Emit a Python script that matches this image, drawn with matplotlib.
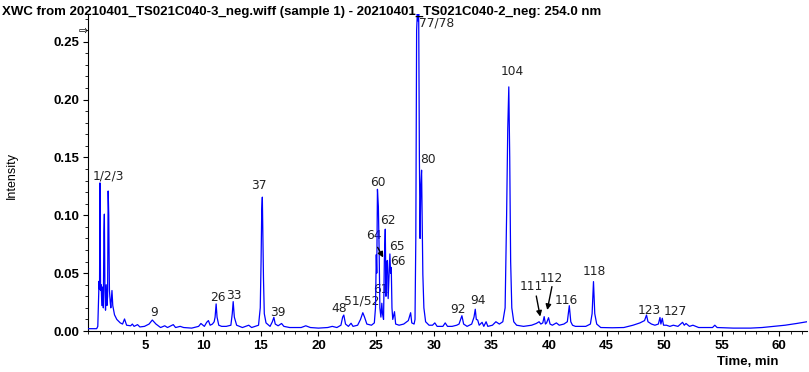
import matplotlib
matplotlib.use("Agg")
import matplotlib.pyplot as plt
from matplotlib.ticker import MultipleLocator

# ---------------- data ----------------
# rows of ten points; time_min and intensity rows correspond one-to-one
time_min = [
    0.0, 0.75, 0.85, 0.92, 0.96, 1.0, 1.04, 1.09, 1.14, 1.2,
    1.27, 1.33, 1.38, 1.42, 1.47, 1.52, 1.58, 1.64, 1.7, 1.75,
    1.8, 1.86, 1.93, 1.98, 2.08, 2.15, 2.3, 2.5, 2.8, 3.0,
    3.17, 3.35, 3.7, 3.85, 4.0, 4.3, 4.5, 4.9, 5.3, 5.58,
    5.9, 6.3, 6.66, 6.9, 7.4, 7.6, 8.0, 8.3, 9.0, 9.6,
    9.8, 10.1, 10.3, 10.45, 10.6, 10.8, 10.95, 11.03, 11.12, 11.2,
    11.35, 11.6, 12.0, 12.4, 12.52, 12.6, 12.7, 12.9, 13.4, 13.95,
    14.2, 14.8, 14.95, 15.02, 15.08, 15.13, 15.18, 15.23, 15.3, 15.45,
    15.8, 16.0, 16.13, 16.25, 16.5, 16.8, 17.0, 17.5, 18.5, 18.9,
    19.3, 20.0, 20.8, 21.2, 21.6, 21.95, 22.1, 22.2, 22.35, 22.6,
    22.83, 23.0, 23.4, 23.65, 23.85, 24.0, 24.2, 24.6, 24.85, 24.95,
    25.02, 25.06, 25.12, 25.2, 25.27, 25.33, 25.42, 25.5, 25.56, 25.65,
    25.72, 25.8, 25.86, 25.92, 25.99, 26.05, 26.12, 26.2, 26.26, 26.32,
    26.38, 26.45, 26.6, 26.7, 27.0, 27.4, 27.8, 28.0, 28.1, 28.3,
    28.38, 28.45, 28.52, 28.58, 28.64, 28.7, 28.76, 28.82, 28.88, 28.95,
    29.0, 29.06, 29.15, 29.3, 29.6, 29.9, 30.1, 30.3, 30.8, 31.0,
    31.2, 31.6, 32.0, 32.2, 32.45, 32.6, 32.9, 33.3, 33.5, 33.61,
    33.7, 33.82, 33.95, 34.2, 34.35, 34.55, 34.7, 35.1, 35.4, 35.7,
    36.0, 36.2, 36.33, 36.43, 36.52, 36.6, 36.68, 36.78, 36.95, 37.2,
    37.8, 38.5, 38.9, 39.15, 39.3, 39.47, 39.59, 39.7, 39.8, 39.97,
    40.1, 40.3, 40.65, 40.9, 41.3, 41.6, 41.77, 41.9, 42.05, 42.3,
    42.6, 43.2, 43.6, 43.75, 43.87, 43.98, 44.15, 44.5, 45.5, 46.5,
    47.3, 47.9, 48.3, 48.47, 48.6, 48.9, 49.2, 49.5, 49.64, 49.72,
    49.84, 49.95, 50.2, 50.5, 50.8, 51.2, 51.6, 51.75, 51.9, 52.2,
    52.5, 53.0, 54.2, 54.4, 54.6, 56.0, 57.5, 58.5, 59.5, 60.5,
    61.5, 62.4,
]
intensity = [
    0.002, 0.002, 0.004, 0.03, 0.043, 0.036, 0.128, 0.035, 0.04, 0.022,
    0.038, 0.02, 0.085, 0.101, 0.035, 0.018, 0.04, 0.022, 0.03, 0.121,
    0.1, 0.035, 0.025, 0.02, 0.035, 0.022, 0.014, 0.01, 0.007, 0.006,
    0.0104, 0.005, 0.0045, 0.006, 0.004, 0.0055, 0.0035, 0.004, 0.006, 0.0095,
    0.006, 0.003, 0.0045, 0.003, 0.0055, 0.003, 0.004, 0.003, 0.0025, 0.004,
    0.0065, 0.004, 0.0075, 0.009, 0.005, 0.006, 0.008, 0.012, 0.0234, 0.012,
    0.005, 0.004, 0.004, 0.005, 0.015, 0.0254, 0.012, 0.005, 0.003, 0.005,
    0.003, 0.005, 0.02, 0.06, 0.105, 0.1157, 0.079, 0.045, 0.015, 0.007,
    0.004, 0.008, 0.0118, 0.006, 0.0045, 0.0065, 0.004, 0.003, 0.003, 0.0045,
    0.003, 0.0025, 0.003, 0.004, 0.003, 0.005, 0.012, 0.0138, 0.006, 0.004,
    0.0067, 0.004, 0.005, 0.01, 0.0158, 0.012, 0.006, 0.005, 0.007, 0.02,
    0.066, 0.05, 0.1225, 0.1075, 0.068, 0.02, 0.012, 0.024, 0.015, 0.01,
    0.061, 0.088, 0.03, 0.06, 0.061, 0.028, 0.045, 0.0666, 0.05, 0.055,
    0.02, 0.01, 0.0167, 0.006, 0.005, 0.006, 0.009, 0.0158, 0.007, 0.006,
    0.01, 0.08, 0.26, 0.274, 0.268, 0.274, 0.15, 0.08, 0.125, 0.139,
    0.096, 0.049, 0.02, 0.008, 0.005, 0.005, 0.007, 0.004, 0.004, 0.007,
    0.004, 0.004, 0.005, 0.006, 0.0132, 0.006, 0.004, 0.006, 0.012, 0.0188,
    0.01, 0.0095, 0.005, 0.0075, 0.004, 0.008, 0.004, 0.005, 0.008, 0.006,
    0.008, 0.02, 0.1, 0.175, 0.211, 0.15, 0.06, 0.02, 0.008, 0.005,
    0.004, 0.005, 0.0065, 0.008, 0.006, 0.007, 0.0124, 0.006, 0.007, 0.0115,
    0.006, 0.005, 0.007, 0.005, 0.006, 0.008, 0.0219, 0.008, 0.005, 0.004,
    0.004, 0.004, 0.006, 0.015, 0.0427, 0.015, 0.006, 0.003, 0.0028, 0.003,
    0.005, 0.007, 0.009, 0.0138, 0.008, 0.006, 0.005, 0.006, 0.0117, 0.006,
    0.011, 0.005, 0.005, 0.004, 0.005, 0.004, 0.0075, 0.005, 0.0065, 0.004,
    0.005, 0.003, 0.003, 0.005, 0.003, 0.0025, 0.0025, 0.003, 0.004, 0.005,
    0.0065, 0.008,
]

peak_labels = ["1/2/3", "9", "26", "33", "37", "39", "48", "51/52", "60", "61", "62", "64",
               "65", "66", "77/78", "80", "92", "94", "104", "111", "112", "116", "118",
               "123", "127"]
label_t = [1.77, 5.7, 11.3, 12.63, 14.8, 16.5, 21.8, 23.77, 25.16, 25.4, 26.04, 24.8,
           26.85, 26.9, 30.25, 29.5, 32.1, 33.85, 36.8, 38.5, 40.17, 41.5, 43.95, 48.7, 50.95]
label_i = [0.134, 0.0164, 0.029, 0.031, 0.126, 0.0162, 0.0196, 0.026, 0.128, 0.0355, 0.0954,
           0.0824, 0.073, 0.06, 0.266, 0.148, 0.019, 0.026, 0.224, 0.0383, 0.0456, 0.026,
           0.0513, 0.0173, 0.0167]

arrow_from_t = [25.02, 38.86, 40.31]
arrow_from_i = [0.0744, 0.0326, 0.0407]
arrow_to_t = [25.74, 39.29, 39.81]
arrow_to_i = [0.0614, 0.0101, 0.0158]

title = ("XWC from 20210401_TS021C040-3_neg.wiff (sample 1) - "
         "20210401_TS021C040-2_neg: 254.0 nm")

# ---------------- figure ----------------
fig = plt.figure(figsize=(8.09, 3.72), dpi=100)
ax = fig.add_axes([88 / 809, 41 / 372, 719 / 809, 317 / 372])

ax.plot(time_min, intensity, color="#0000ff", lw=0.9, zorder=3)

ax.set_xlim(0, 62.4)
ax.set_ylim(0, 0.274)
ax.xaxis.set_minor_locator(MultipleLocator(1))
ax.yaxis.set_minor_locator(MultipleLocator(0.01))
ax.set_xticks([5, 10, 15, 20, 25, 30, 35, 40, 45, 50, 55, 60])
ax.set_yticks([0, 0.05, 0.1, 0.15, 0.2, 0.25])
ax.set_yticklabels(["0.00", "0.05", "0.10", "0.15", "0.20", "0.25"])

for s in ("top", "right"):
    ax.spines[s].set_visible(False)
for s in ("left", "bottom"):
    ax.spines[s].set_linewidth(0.8)

ax.tick_params(axis="both", which="major", length=3.5, width=0.8, pad=3)
ax.tick_params(axis="both", which="minor", length=2, width=0.6)
for lab in ax.get_xticklabels() + ax.get_yticklabels():
    lab.set_fontfamily("Liberation Sans")
    lab.set_fontweight("bold")
    lab.set_fontsize(9.5)

ax.set_ylabel("Intensity", fontfamily="Liberation Sans", fontsize=9)
ax.yaxis.set_label_coords(-0.098, 0.49)
ax.set_xlabel("Time, min", fontfamily="Liberation Sans", fontweight="bold", fontsize=9.5)
ax.xaxis.set_label_coords(0.918, -0.08)

for txt, t, i in zip(peak_labels, label_t, label_i):
    ax.text(t, i, txt, ha="center", va="center", fontsize=8.8, color="#222222",
            family="DejaVu Sans", zorder=2)

for t0, i0, t1, i1 in zip(arrow_from_t, arrow_from_i, arrow_to_t, arrow_to_i):
    ax.annotate("", xy=(t1, i1), xytext=(t0, i0),
                arrowprops=dict(arrowstyle="-|>", color="black", lw=1.0,
                                mutation_scale=8), zorder=4)

fig.text(0.002, 0.985, title, ha="left", va="top", fontsize=9.5,
         fontweight="bold", family="Liberation Sans")
fig.text(83 / 809, 1 - 31 / 372, "\u21e8", ha="center", va="center", fontsize=8,
         family="DejaVu Sans")

fig.savefig("out.png", dpi=100)
